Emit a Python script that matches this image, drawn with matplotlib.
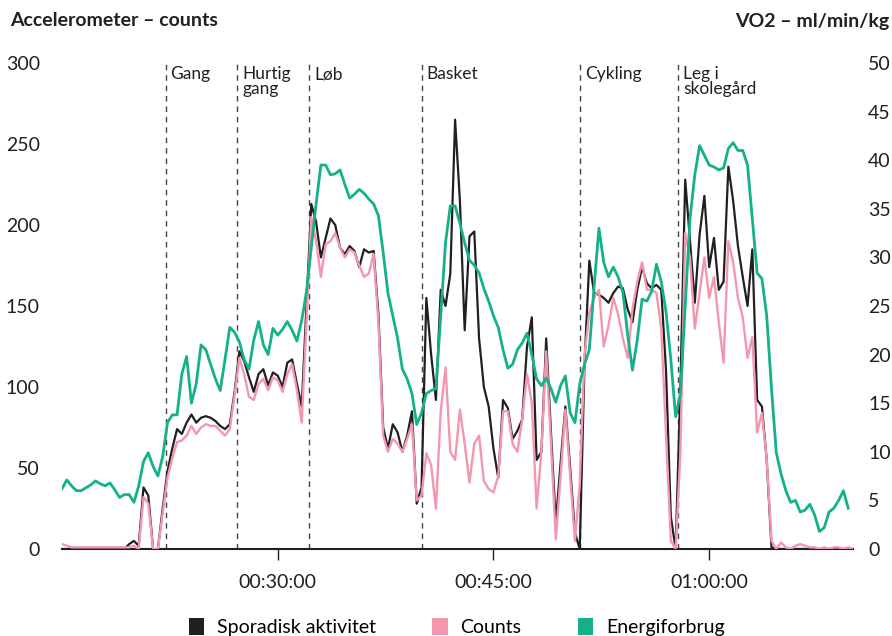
import numpy as np
import matplotlib
matplotlib.use("Agg")
import matplotlib.pyplot as plt
from matplotlib.patches import Patch
from matplotlib.ticker import FixedLocator, FuncFormatter

plt.rcParams['font.family'] = ['Lato', 'DejaVu Sans']

# ---- data (20-second epochs, time in minutes from 00:15:00 to 01:10:00) ----
t_start_min = 15.0
epoch_min = 1.0 / 3.0

sporadisk = [0, 0, 0, 0, 0, 0, 0, 0, 0, 0, 0, 0, 0, 0, 3, 5, 2,
             38, 33, 0, 0, 25, 48, 62, 74, 71, 78, 83, 78, 81, 82, 81, 79, 76, 74, 77,
             97, 122, 116, 106, 97, 108, 111, 101, 109, 107, 100, 115, 117, 102, 88,
             150, 213, 202, 180, 192, 204, 200, 186, 182, 187, 184, 174, 185, 183, 184,
             145, 75, 62, 77, 72, 60, 70, 85, 28, 38,
             155, 120, 92, 160, 150, 170, 265, 215, 135, 193, 196, 130, 100, 88, 62, 44,
             92, 87, 68, 73, 80, 125, 143, 55, 60, 130, 72, 16, 53, 88, 50, 10, 0,
             115, 178, 158, 157, 155, 152, 158, 162, 161, 148, 140, 160, 174, 164, 161, 163,
             160, 110, 20, 0,
             100, 228, 190, 152, 194, 218, 174, 192, 160, 165, 236, 215, 187, 168, 150, 185,
             92, 88, 55, 1, 0, 0, 0, 0, 0, 0, 0, 0, 0, 0, 0, 0, 0, 0, 0, 0, 0]

counts = [3, 2, 1, 1, 1, 1, 1, 1, 1, 1, 1, 1, 1, 1, 1, 2, 0,
          32, 28, 0, 0, 22, 44, 56, 66, 67, 70, 76, 71, 75, 77, 76, 76, 73, 70, 74,
          95, 118, 108, 94, 92, 102, 105, 98, 106, 104, 97, 108, 114, 98, 78,
          140, 205, 190, 168, 188, 190, 195, 186, 180, 185, 183, 175, 168, 170, 182,
          140, 70, 60, 68, 65, 60, 68, 77, 30, 33,
          59, 52, 25, 85, 112, 60, 55, 86, 65, 41, 65, 70, 42, 37, 35, 45,
          85, 85, 65, 60, 80, 108, 90, 25, 60, 122, 65, 6, 45, 86, 45, 5, 40,
          120, 146, 155, 160, 125, 138, 155, 145, 130, 118, 148, 165, 177, 160, 160, 158,
          136, 70, 5, 0,
          60, 195, 180, 136, 158, 180, 155, 168, 140, 115, 190, 177, 155, 143, 118, 131,
          72, 84, 55, 5, 0, 4, 1, 0, 2, 3, 2, 1, 1, 0, 1, 0, 1, 1, 0, 1, 0]

vo2 = [6.2, 7.1, 6.5, 6.0, 6.0, 6.3, 6.6, 7.0, 6.7, 6.5, 6.8, 6.1, 5.3, 5.6, 5.6, 4.8, 6.5,
       9.0, 9.9, 8.5, 7.5, 9.5, 13.0, 13.8, 13.8, 18.0, 19.8, 15.0, 17.0, 21.0, 20.5, 19.0,
       17.5, 16.3, 19.5, 22.8, 22.3, 21.3, 19.5, 18.5, 21.5, 23.4, 21.0, 20.0, 22.7, 22.0,
       22.6, 23.4, 22.5, 21.4, 23.5,
       26.5, 31.0, 35.5, 39.5, 39.5, 38.5, 38.6, 39.0, 37.5, 36.1, 36.5, 37.0, 36.6, 36.0,
       35.5, 34.3, 30.5, 26.3, 24.0, 21.7, 18.5, 17.5, 16.0, 12.8,
       14.0, 16.0, 16.3, 16.5, 24.0, 31.5, 35.3, 35.3, 33.5, 31.5, 29.7, 29.2, 28.4, 26.8,
       25.5, 24.0, 22.8, 20.5, 18.6, 19.0, 20.5, 21.2, 22.2, 20.0, 17.5, 16.8, 17.6, 16.5,
       15.1, 16.8, 17.8, 14.0, 13.0,
       17.0, 19.0, 20.5, 27.0, 33.0, 29.5, 28.0, 29.0, 28.0, 26.4, 22.0, 18.4, 21.5, 25.7,
       25.5, 26.5, 29.3, 27.5, 24.4, 19.5, 13.6,
       16.0, 25.0, 34.0, 38.5, 41.5, 40.5, 39.5, 39.3, 39.0, 39.2, 41.2, 41.8, 41.0, 41.0,
       39.5, 34.0, 28.4, 27.8, 24.0, 16.5, 9.9, 7.7, 6.0, 4.8, 5.0, 3.8, 4.0, 4.6, 3.5,
       1.8, 2.2, 3.8, 4.2, 5.0, 6.0, 4.2, np.nan]

activity_labels = ["Gang", "Hurtig\ngang", "Løb", "Basket", "Cykling", "Leg i\nskolegård"]
activity_start_min = [22.2, 27.2, 32.2, 40.0, 51.0, 57.85]

xtick_min = [30, 45, 60]
left_ticks = [0, 50, 100, 150, 200, 250, 300]
right_ticks = [0, 5, 10, 15, 20, 25, 30, 35, 40, 45, 50]

series_names = ["Sporadisk aktivitet", "Counts", "Energiforbrug"]
colors = ["#231f20", "#f397ae", "#14b18a"]

# ---- figure ----
W, H = 892, 636
fig = plt.figure(figsize=(W / 100, H / 100), dpi=100)
ax_left, ax_right_px, ax_top, ax_bot = 62, 853, 63, 549
ax = fig.add_axes([ax_left / W, (H - ax_bot) / H,
                   (ax_right_px - ax_left) / W, (ax_bot - ax_top) / H])
ax2 = ax.twinx()

n = len(counts)
t = t_start_min + epoch_min * np.arange(n)

txt_color = "#231f20"

ax.plot(t, sporadisk, color=colors[0], lw=1.6, zorder=3, solid_joinstyle='round')
ax.plot(t, counts, color=colors[1], lw=1.7, zorder=4, solid_joinstyle='round')
ax2.plot(t[:len(vo2)], vo2, color=colors[2], lw=2.0, zorder=5, solid_joinstyle='round')

for lab, xs in zip(activity_labels, activity_start_min):
    ax.axvline(xs, color="#444444", lw=1.0, ls=(0, (4, 3.5)), zorder=2)
    ax.text(xs + 0.35, 298, lab, ha='left', va='top', fontsize=12.5,
            color=txt_color, linespacing=0.92)

ax.set_xlim(15, 70)
ax.set_ylim(0, 300)
ax2.set_ylim(0, 50)

ax.xaxis.set_major_locator(FixedLocator(xtick_min))
def fmt(v, pos):
    m = int(round(v))
    return f"{m // 60:02d}:{m % 60:02d}:00"
ax.xaxis.set_major_formatter(FuncFormatter(fmt))

ax.set_yticks(left_ticks)
ax2.set_yticks(right_ticks)

for a in (ax, ax2):
    for s in ("top", "left", "right", "bottom"):
        a.spines[s].set_visible(False)
ax.spines["bottom"].set_visible(True)
ax.spines["bottom"].set_color("#231f20")
ax.spines["bottom"].set_linewidth(1.5)

ax.tick_params(axis='x', length=8, width=1.0, color="#231f20", pad=10,
               labelsize=14, labelcolor=txt_color)
ax.tick_params(axis='y', length=0, pad=16, labelsize=14, labelcolor=txt_color)
ax2.tick_params(axis='y', length=0, pad=11, labelsize=14, labelcolor=txt_color)

fig.text(10 / W, 1 - 21 / H, "Accelerometer – counts", ha='left', va='center',
         fontsize=14, fontweight='bold', color=txt_color)
fig.text(889 / W, 1 - 21 / H, "VO2 – ml/min/kg", ha='right', va='center',
         fontsize=14, fontweight='bold', color=txt_color)

handles = [Patch(facecolor=c, edgecolor='none', label=l) for c, l in zip(colors, series_names)]
fig.legend(handles=handles, loc='center', bbox_to_anchor=(0.512, 0.014), ncol=3,
           frameon=False, fontsize=14, handlelength=0.8, handleheight=0.95,
           handletextpad=0.65, columnspacing=2.9, borderpad=0)

fig.savefig("out.png", dpi=100)
